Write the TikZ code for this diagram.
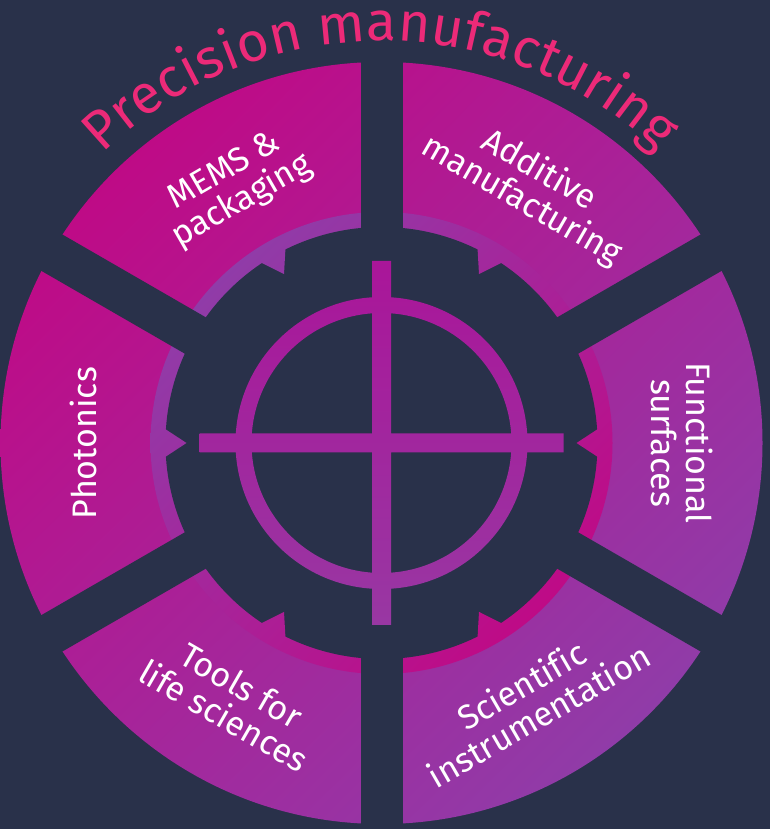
\documentclass[tikz,border=0pt]{standalone}
\usepackage{fontspec}
\setmainfont{Fira Sans}[Ligatures=CommonOff]
\usetikzlibrary{decorations.text,calc,shadings}
\definecolor{bg}{HTML}{29314A}
\definecolor{magA}{HTML}{C8007E}
\definecolor{purA}{HTML}{8646AE}
\definecolor{midA}{HTML}{A8239A}
\definecolor{titlepink}{HTML}{EC2A78}
\definecolor{crossTop}{HTML}{AA1599}
\definecolor{crossBot}{HTML}{9838A3}
\newcommand\mytitlefont{\fontsize{55}{60}\selectfont}
\begin{document}
\begin{tikzpicture}[x=1pt,y=1pt,
  bodyshade/.style={upper left=magA, lower right=purA, upper right=midA, lower left=midA},
  bandshade/.style={upper left=purA, lower right=magA, upper right=midA, lower left=midA},
  seglabel/.style={text=white, font=\fontsize{34}{35}\selectfont, anchor=base, transform shape, inner sep=0pt},
]
\useasboundingbox (0,0) rectangle (770,829);
\fill[bg] (0,0) rectangle (770,829);
\coordinate (C) at (381.5,386);
% segment bodies
\shade[bodyshade] (C) circle[radius=381pt];
% inner band
\shade[bandshade] (C) circle[radius=231pt];
\fill[bg] (C) circle[radius=216pt];
% pointer triangles
\begin{scope}
  \clip foreach \a in {0,60,...,300} {
    ($(C)+(\a:195pt)$) -- ($(C)+(\a:222pt)+(\a+90:17.7pt)$) -- ($(C)+(\a:222pt)+(\a-90:17.7pt)$) -- cycle };
  \shade[bandshade] (C) circle[radius=231pt];
\end{scope}
% gaps
\foreach \a in {30,90,150} {
  \begin{scope}[shift={(381.5,386)}, rotate=\a]
    \fill[bg] (-400,-21) rectangle (400,21);
  \end{scope}
}
% crosshair
\begin{scope}[shift={(381.5,386)}]
  \clip (-9.5,-182) -- (9.5,-182) -- (9.5,182) -- (-9.5,182) -- cycle
        (-182,-9.5) -- (182,-9.5) -- (182,9.5) -- (-182,9.5) -- cycle
        (146,0) arc[start angle=0, end angle=360, radius=146pt] -- cycle
        (130,0) arc[start angle=360, end angle=0, radius=130pt] -- cycle;
  \shade[top color=crossTop, bottom color=crossBot] (-190,-190) rectangle (190,190);
\end{scope}
% labels
\begin{scope}[shift={(381.5,386)}, rotate=30]
  \node[seglabel] (mems1) at (0,305) {MEMS \&};
  \node[seglabel] (mems2) at (0,270) {packaging};
\end{scope}
\begin{scope}[shift={(381.5,386)}, rotate=-30]
  \node[seglabel] (add1) at (0,305) {Additive};
  \node[seglabel] (add2) at (0,270) {manufacturing};
\end{scope}
\begin{scope}[shift={(381.5,386)}, rotate=-90]
  \node[seglabel] (fun1) at (0,305) {Functional};
  \node[seglabel] (fun2) at (0,270) {surfaces};
\end{scope}
\begin{scope}[shift={(381.5,386)}, rotate=90]
  \node[seglabel] (pho) at (0,285) {Photonics};
\end{scope}
\begin{scope}[shift={(381.5,386)}, rotate=30]
  \node[seglabel] (sci1) at (0,-292.5) {Scientific};
  \node[seglabel] (sci2) at (0,-327.5) {instrumentation};
\end{scope}
\begin{scope}[shift={(381.5,386)}, rotate=-30]
  \node[seglabel] (tool1) at (0,-292.5) {Tools for};
  \node[seglabel] (tool2) at (0,-327.5) {life sciences};
\end{scope}
% title
\path[decorate, decoration={text along path, text={|\mytitlefont|Precision manufacturing}, text align={fit to path}, text color=titlepink}]
  ($(C)+(134:402pt)$) arc[start angle=134, end angle=46.5, radius=402pt];
\end{tikzpicture}
\end{document}
